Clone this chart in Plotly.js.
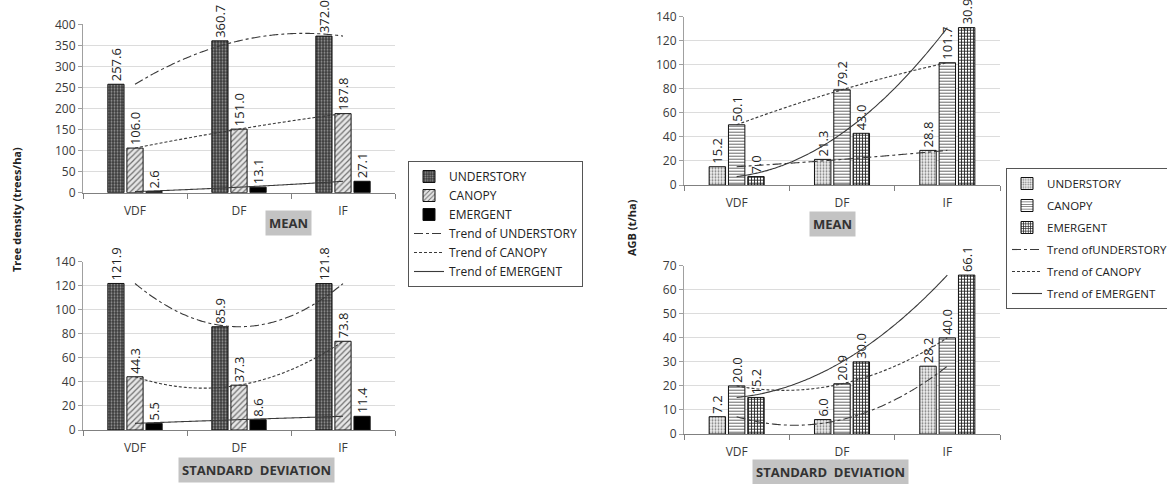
<!DOCTYPE html>
<html>
<head>
<meta charset="utf-8">
<script src="https://cdn.plot.ly/plotly-3.0.1.min.js"></script>
<style>html,body{margin:0;padding:0;background:#fff;}#chart{width:1167px;height:484px;}</style>
</head>
<body>
<div id="chart"></div>
<script>
// ---- data ----
const categories = ['VDF', 'DF', 'IF'];
const seriesNames = ['UNDERSTORY', 'CANOPY', 'EMERGENT'];
const trendNamesLeft = ['Trend of UNDERSTORY', 'Trend of CANOPY', 'Trend of EMERGENT'];
const trendNamesRight = ['Trend ofUNDERSTORY', 'Trend of CANOPY', 'Trend of EMERGENT'];

// Tree density (trees/ha)
const densMeanUnderstory = [257.6, 360.7, 372.0];
const densMeanCanopy = [106.0, 151.0, 187.8];
const densMeanEmergent = [2.6, 13.1, 27.1];
const densSdUnderstory = [121.9, 85.9, 121.8];
const densSdCanopy = [44.3, 37.3, 73.8];
const densSdEmergent = [5.5, 8.6, 11.4];

// AGB (t/ha)
const agbMeanUnderstory = [15.2, 21.3, 28.8];
const agbMeanCanopy = [50.1, 79.2, 101.7];
const agbMeanEmergent = [7.0, 43.0, 130.9];
const agbSdUnderstory = [7.2, 6.0, 28.2];
const agbSdCanopy = [20.0, 20.9, 40.0];
const agbSdEmergent = [15.2, 30.0, 66.1];

// ---- helpers ----
const W = 1167, H = 484;
const px = v => v / W;
const py = v => 1 - v / H;
const catIdx = categories.map((c, i) => i);
const BARGAP = 0.45, BARGROUPGAP = 0.15;

// 2nd-order polynomial trendline (as in the original spreadsheet chart) through the 3 category values
function polyTrend(vals) {
  const xs = [], ys = [];
  const [a, b, c] = vals;
  for (let k = 0; k <= 80; k++) {
    const x = k / 40;
    const y = a * (x - 1) * (x - 2) / 2 - b * x * (x - 2) + c * x * (x - 1) / 2;
    xs.push(x); ys.push(y);
  }
  return {xs, ys};
}

const leftStyles = [
  {color: '#3c3c3c', pattern: {shape: '.', bgcolor: '#3a3a3a', fgcolor: '#9a9a9a', size: 3, solidity: 0.35, fillmode: 'replace'}},
  {color: '#d9d9d9', pattern: {shape: '/', bgcolor: '#e6e6e6', fgcolor: '#707070', size: 4, solidity: 0.3, fillmode: 'replace'}},
  {color: '#000000'}
];
const rightStyles = [
  {color: '#eeeeee', pattern: {shape: '.', bgcolor: '#f2f2f2', fgcolor: '#7a7a7a', size: 3, solidity: 0.35, fillmode: 'replace'}},
  {color: '#ffffff', pattern: {shape: '-', bgcolor: '#ffffff', fgcolor: '#555555', size: 3, solidity: 0.3, fillmode: 'replace'}},
  {color: '#333333', pattern: {shape: '+', bgcolor: '#ffffff', fgcolor: '#222222', size: 3, solidity: 0.5, fillmode: 'replace'}}
];
const trendDash = ['9px,3px,3px,3px', '3px,2px', 'solid'];
const labelFont = {family: 'Open Sans, sans-serif', size: 13, color: '#222'};

const traces = [];
const extraAnnotations = [];
// squeezeTop: label of the tallest bar is pushed down over the bar top (as in the original) instead of outside
function addPanel(vals, styles, xa, ya, legendName, trendNames, showLegend, squeezeTop) {
  vals.forEach((v, i) => {
    const m = {color: styles[i].color, line: {color: '#111', width: 1}};
    if (styles[i].pattern) m.pattern = styles[i].pattern;
    const tp = v.map((val, j) => (squeezeTop && squeezeTop.series === i && squeezeTop.point === j) ? 'none' : 'outside');
    traces.push({
      type: 'bar', x: catIdx, y: v, name: seriesNames[i],
      xaxis: xa, yaxis: ya, marker: m,
      texttemplate: '%{y:.1f}', textposition: tp, textangle: -90,
      constraintext: 'none', cliponaxis: false,
      textfont: labelFont,
      legend: legendName, legendgroup: legendName + i, showlegend: showLegend,
      hoverinfo: 'y'
    });
    if (squeezeTop && squeezeTop.series === i) {
      const slot = (1 - BARGAP) / 3;
      extraAnnotations.push({
        xref: xa, yref: ya, x: catIdx[squeezeTop.point] + (i - 1) * slot, y: v[squeezeTop.point],
        text: v[squeezeTop.point].toFixed(1), textangle: -90, showarrow: false,
        yanchor: 'bottom', xanchor: 'center', yshift: -6, font: labelFont
      });
    }
  });
  vals.forEach((v, i) => {
    const t = polyTrend(v);
    traces.push({
      type: 'scatter', mode: 'lines', x: t.xs, y: t.ys, name: trendNames[i],
      xaxis: xa, yaxis: ya,
      line: {color: '#3a3a3a', width: 1.1, dash: trendDash[i], shape: 'spline'},
      legend: legendName, legendgroup: legendName + 't' + i, showlegend: showLegend,
      hoverinfo: 'skip'
    });
  });
}

addPanel([densMeanUnderstory, densMeanCanopy, densMeanEmergent], leftStyles, 'x', 'y', 'legend', trendNamesLeft, true);
addPanel([densSdUnderstory, densSdCanopy, densSdEmergent], leftStyles, 'x2', 'y2', 'legend', trendNamesLeft, false);
addPanel([agbMeanUnderstory, agbMeanCanopy, agbMeanEmergent], rightStyles, 'x3', 'y3', 'legend2', trendNamesRight, true, {series: 2, point: 2});
addPanel([agbSdUnderstory, agbSdCanopy, agbSdEmergent], rightStyles, 'x4', 'y4', 'legend2', trendNamesRight, false);

const tickFont = {family: 'Open Sans, sans-serif', size: 12, color: '#3a3a3a'};
function xAxis(domain, anchor) {
  return {
    domain: domain, anchor: anchor, range: [-0.5, 2.5], fixedrange: true,
    tickmode: 'array', tickvals: catIdx, ticktext: categories, ticks: '',
    minor: {tick0: 0.5, dtick: 1, ticks: 'outside', ticklen: 5, tickcolor: '#808080', showgrid: false},
    showline: true, linecolor: '#808080', linewidth: 1, showgrid: false, zeroline: false,
    tickfont: tickFont, ticklabelstandoff: 7
  };
}
function yAxis(domain, anchor, max, dtick) {
  return {
    domain: domain, anchor: anchor, range: [0, max], dtick: dtick, fixedrange: true,
    showline: true, linecolor: '#a0a0a0', ticks: 'outside', ticklen: 4, tickcolor: '#a0a0a0',
    showgrid: true, gridcolor: '#dcdcdc', gridwidth: 1, zeroline: false,
    tickfont: tickFont
  };
}

const legendBase = {
  xanchor: 'left', yanchor: 'top', bgcolor: '#ffffff', bordercolor: '#555', borderwidth: 1,
  traceorder: 'grouped', itemwidth: 30
};

const annFont = {family: 'Open Sans, sans-serif', size: 13, color: '#333'};
const boxAnn = (text, x, y) => ({
  text: '<b>' + text + '</b>', x: px(x), y: py(y), xref: 'paper', yref: 'paper',
  xanchor: 'center', yanchor: 'middle',
  showarrow: false, bgcolor: '#c3c3c3', borderpad: 3, font: annFont
});

const layout = {
  width: W, height: H,
  margin: {l: 0, r: 0, t: 0, b: 0, autoexpand: false},
  paper_bgcolor: '#fff', plot_bgcolor: 'rgba(0,0,0,0)',
  barmode: 'group', bargap: BARGAP, bargroupgap: BARGROUPGAP,
  xaxis: xAxis([px(83), px(395)], 'y'),
  yaxis: yAxis([py(192.7), py(24.3)], 'x', 400, 50),
  xaxis2: xAxis([px(83), px(395)], 'y2'),
  yaxis2: yAxis([py(430), py(261.7)], 'x2', 140, 20),
  xaxis3: xAxis([px(684), px(1000)], 'y3'),
  yaxis3: yAxis([py(185), py(16.7)], 'x3', 140, 20),
  xaxis4: xAxis([px(684), px(1000)], 'y4'),
  yaxis4: yAxis([py(434), py(265.7)], 'x4', 70, 10),
  legend: Object.assign({}, legendBase, {x: px(408), y: py(161), tracegroupgap: 0,
    font: {family: 'Open Sans, sans-serif', size: 12, color: '#222'}}),
  legend2: Object.assign({}, legendBase, {x: px(1006), y: py(168), tracegroupgap: 3,
    font: {family: 'Open Sans, sans-serif', size: 11.5, color: '#222'}}),
  annotations: [
    boxAnn('MEAN', 288, 223),
    boxAnn('STANDARD&nbsp;&nbsp;DEVIATION', 256, 470),
    boxAnn('MEAN', 832, 224),
    boxAnn('STANDARD&nbsp;&nbsp;DEVIATION', 830, 472),
    {text: '<b>Tree density (trees/ha)</b>', x: px(16), y: py(210), xref: 'paper', yref: 'paper',
     xanchor: 'center', yanchor: 'middle',
     showarrow: false, textangle: -90, font: {family: 'Open Sans, sans-serif', size: 11, color: '#222'}},
    {text: '<b>AGB (t/ha)</b>', x: px(631), y: py(228), xref: 'paper', yref: 'paper',
     xanchor: 'center', yanchor: 'middle',
     showarrow: false, textangle: -90, font: {family: 'Open Sans, sans-serif', size: 11, color: '#222'}}
  ].concat(extraAnnotations),
  showlegend: true
};

Plotly.newPlot('chart', traces, layout, {displayModeBar: false, staticPlot: true});
</script>
</body>
</html>
